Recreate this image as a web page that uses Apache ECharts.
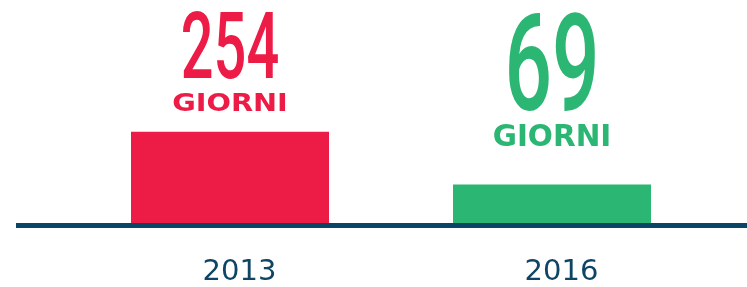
<!DOCTYPE html>
<html>
<head>
<meta charset="utf-8">
<script src="https://cdn.jsdelivr.net/npm/echarts@6/dist/echarts.min.js"></script>
<style>
  html, body { margin: 0; padding: 0; background: #fff; }
  #chart { width: 747px; height: 287px; }
</style>
</head>
<body>
<div id="chart"></div>
<script>
const years = ['2013', '2016'];
const days = [254, 69];
const unit = 'GIORNI';
const barColors = ['#ED1C47', '#2CB673'];

// the source draws each label block at its own size, so tune them one by one
const labelLook = [
  { numSize: 93, numScale: 0.62, numDy: -77, wordSize: 25, wordScale: 1.15, wordDy: -27 },
  { numSize: 135, numScale: 0.62, numDy: -108, wordSize: 29.5, wordScale: 1.0, wordDy: -46.5 },
];

const myChart = echarts.init(document.getElementById('chart'));
myChart.setOption({
  animation: false,
  grid: [
    { left: 69, right: 34, top: 10.6, bottom: 61.5 },
    // second grid only carries the long baseline
    { left: 16, right: 0, top: 10.6, bottom: 61.5 },
  ],
  xAxis: [
    {
      type: 'category',
      gridIndex: 0,
      data: years,
      axisLine: { show: false, onZero: false },
      axisTick: { show: false },
      axisLabel: {
        margin: 34,
        padding: [0, 0, 0, 19],
        fontFamily: 'DejaVu Sans',
        fontSize: 29,
        color: '#0e4564',
      },
    },
    {
      type: 'category',
      gridIndex: 1,
      data: years,
      z: 5,
      axisLine: { onZero: false, lineStyle: { color: '#0b4566', width: 5, cap: 'butt' } },
      axisTick: { show: false },
      axisLabel: { show: false },
    },
  ],
  yAxis: [
    { type: 'value', gridIndex: 0, min: -70, max: 680, startValue: -70, show: false },
    { type: 'value', gridIndex: 1, min: 0, max: 1, show: false },
  ],
  series: [
    {
      type: 'bar',
      barWidth: 198,
      data: days.map((v, i) => ({ value: v, itemStyle: { color: barColors[i] } })),
    },
    {
      type: 'custom',
      clip: false,
      encode: { x: 0, y: 1 },
      data: days.map((v, i) => [i, v]),
      renderItem(params, api) {
        const look = labelLook[params.dataIndex];
        const color = barColors[params.dataIndex];
        const top = api.coord([api.value(0), api.value(1)]);
        return {
          type: 'group',
          children: [
            {
              type: 'text',
              x: top[0],
              y: top[1] + look.numDy,
              scaleX: look.numScale,
              style: {
                text: String(api.value(1)),
                fill: color,
                font: '500 ' + look.numSize + 'px Roboto',
                align: 'center',
                verticalAlign: 'middle',
              },
            },
            {
              type: 'text',
              x: top[0],
              y: top[1] + look.wordDy,
              scaleX: look.wordScale,
              style: {
                text: unit,
                fill: color,
                font: 'bold ' + look.wordSize + 'px "DejaVu Sans"',
                align: 'center',
                verticalAlign: 'middle',
              },
            },
          ],
        };
      },
    },
  ],
});
</script>
</body>
</html>
